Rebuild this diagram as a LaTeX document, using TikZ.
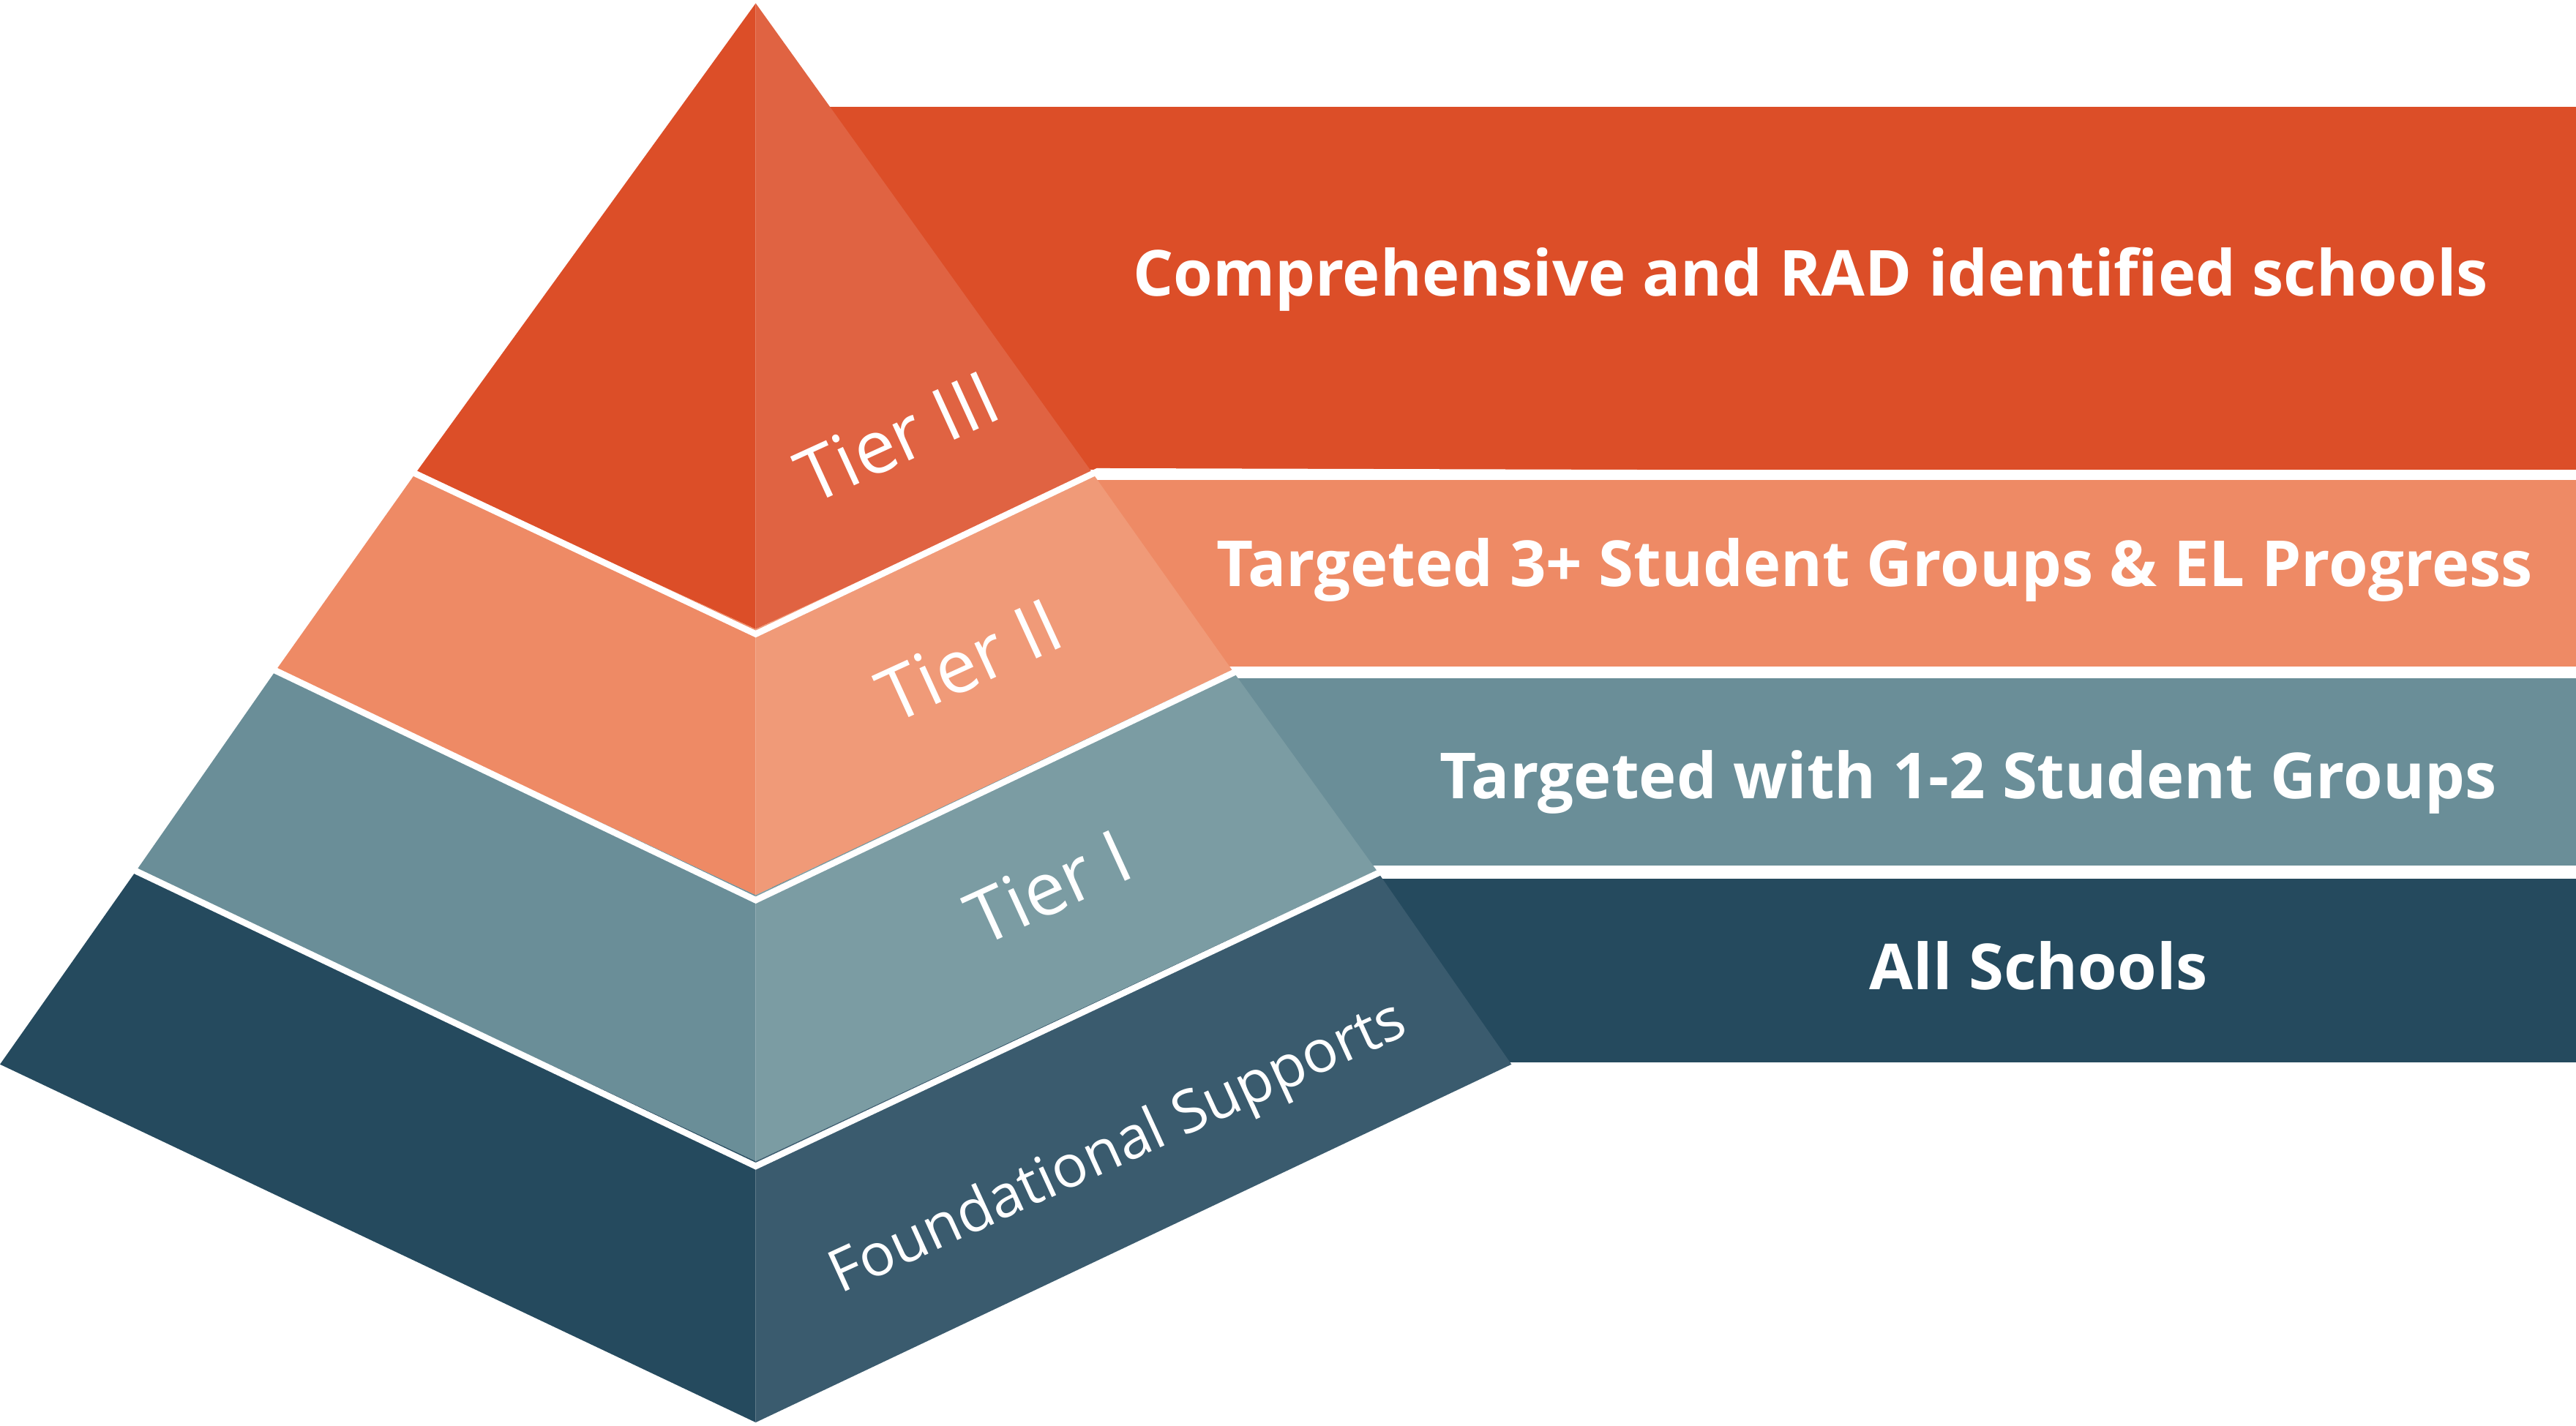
\documentclass[tikz,border=0pt]{standalone}
\usepackage{fontspec}
\setmainfont{Open Sans}
\definecolor{oA}{HTML}{DC4E28}\definecolor{oB}{HTML}{E06342}
\definecolor{pA}{HTML}{EE8A65}\definecolor{pB}{HTML}{F09A78}
\definecolor{tA}{HTML}{6A8E98}\definecolor{tB}{HTML}{7B9CA3}
\definecolor{nA}{HTML}{254A5E}\definecolor{nB}{HTML}{3A5B6E}
\begin{document}
\begin{tikzpicture}[x=0.05cm,y=-0.05cm,
  sep/.style={draw=white,line width=5.5pt,line join=miter},
  bantext/.style={text=white,font=\fontsize{55}{58}\selectfont\bfseries},
  tiertext/.style={text=white,rotate=24.6,font=\fontsize{64}{66}\selectfont},
  fndtext/.style={text=white,rotate=24.6,font=\fontsize{51}{53}\selectfont}]
\useasboundingbox (0,0) rectangle (1568,868);
% banners
\fill[oA] (470,65) rectangle (1568,286);
\fill[pA] (470,292) rectangle (1568,406);
\fill[tA] (470,413) rectangle (1568,527);
\fill[nA] (470,535) rectangle (1568,647);
% pyramid faces
\fill[oA] (460,2) -- (253,288) -- (460,383) -- cycle;
\fill[oB] (460,2) -- (665,288) -- (460,383) -- cycle;
\fill[pA] (253,288) -- (168,408) -- (460,545) -- (460,383) -- cycle;
\fill[pB] (665,288) -- (750,408) -- (460,545) -- (460,383) -- cycle;
\fill[tA] (168,408) -- (83,530) -- (460,707) -- (460,545) -- cycle;
\fill[tB] (750,408) -- (838,530) -- (460,707) -- (460,545) -- cycle;
\fill[nA] (83,530) -- (0,648) -- (460,866) -- (460,707) -- cycle;
\fill[nB] (838,530) -- (920,648) -- (460,866) -- (460,707) -- cycle;
% separators
\draw[sep] (250,287) -- (460,386) -- (668,287) -- (1568,289.5);
\draw[sep] (165,407) -- (460,548) -- (752,409) -- (1568,409.5);
\draw[sep] (80,529) -- (460,710) -- (840,531) -- (1568,531);
% labels
\node[bantext] (b1) at (1102,170) {Comprehensive and RAD identified schools};
\node[bantext] (b2) at (1141,347) {Targeted 3+ Student Groups \& EL Progress};
\node[bantext] (b3) at (1198,476) {Targeted with 1-2 Student Groups};
\node[bantext] (b4) at (1241,588) {All Schools};
\node[tiertext] (t3) at (546,266) {Tier III};
\node[tiertext] (t2) at (590,402) {Tier II};
\node[tiertext] (t1) at (638,540) {Tier I};
\node[fndtext] (f) at (681,700) {Foundational Supports};
\end{tikzpicture}
\end{document}
